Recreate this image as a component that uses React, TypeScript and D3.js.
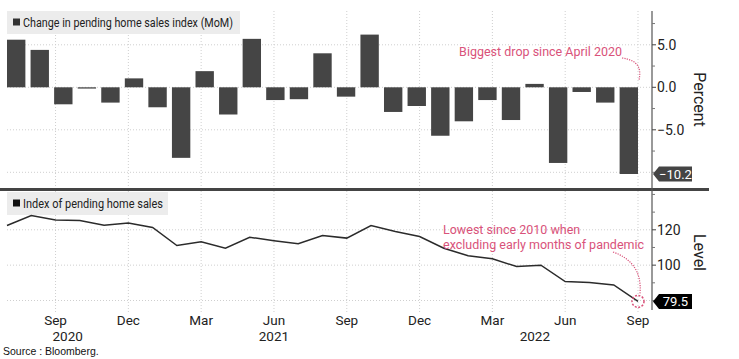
import React from "react";
import * as d3 from "d3";

// ---------- data ----------
const months = [
  "Jul 2020", "Aug 2020", "Sep 2020", "Oct 2020", "Nov 2020", "Dec 2020",
  "Jan 2021", "Feb 2021", "Mar 2021", "Apr 2021", "May 2021", "Jun 2021",
  "Jul 2021", "Aug 2021", "Sep 2021", "Oct 2021", "Nov 2021", "Dec 2021",
  "Jan 2022", "Feb 2022", "Mar 2022", "Apr 2022", "May 2022", "Jun 2022",
  "Jul 2022", "Aug 2022", "Sep 2022",
];
const momChange = [
  5.6, 4.4, -2.0, -0.15, -1.8, 1.05, -2.35, -8.3, 1.9, -3.2, 5.7, -1.5, -1.4,
  4.0, -1.1, 6.2, -2.9, -2.2, -5.7, -4.0, -1.5, -3.85, 0.4, -8.9, -0.55, -1.8,
  -10.2,
];
const indexLevel = [
  122.4, 128.1, 125.6, 125.2, 122.6, 123.9, 121.3, 111.1, 113.2, 109.6, 115.8,
  113.8, 112.1, 116.8, 115.3, 122.4, 119.0, 116.2, 109.6, 105.3, 103.6, 99.2,
  100.0, 90.7, 90.2, 88.8, 79.5,
];
const monthTickLabels = ["Sep", "Dec", "Mar", "Jun", "Sep", "Dec", "Mar", "Jun", "Sep"];
const monthTickIndex = [2, 5, 8, 11, 14, 17, 20, 23, 26];
const yearLabels = ["2020", "2021", "2022"];
const yearLabelIndex = [2.5, 11, 21.75];
const pctTicks = [5, 0, -5];
const pctMinorTicks = [7.5, 2.5, -2.5, -7.5, -10];
const levelTicks = [120, 100];
const levelMinorTicks = [140, 130, 110, 90, 80];

const topTitle = "Change in pending home sales index (MoM)";
const bottomTitle = "Index of pending home sales";
const topNote = "Biggest drop since April 2020";
const bottomNote1 = "Lowest since 2010 when";
const bottomNote2 = "excluding early months of pandemic";
const source = "Source : Bloomberg.";

// ---------- layout ----------
const W = 739;
const H = 359;
const left = 7;
const right = 638;
const axisX = 652;
const topY0 = 11;
const topY1 = 188;
const botY0 = 191;
const botY1 = 310;

const FONT = "Roboto, 'DejaVu Sans', sans-serif";
const PINK = "#d9527a";
const BAR = "#454545";
const GRID = "#cfcfcf";

export default function App() {
  const xBand = d3
    .scaleBand<string>()
    .domain(months)
    .range([left, right])
    .paddingInner(0.22)
    .paddingOuter(0);
  const xPt = d3.scaleLinear().domain([0, months.length - 1]).range([left, right]);

  const yTop = d3.scaleLinear().domain([-10, 5]).range([172.3, 44.8]);
  const yBot = d3.scaleLinear().domain([80, 120]).range([300.5, 229.8]);

  const linePath = d3
    .line<number>()
    .x((_, i) => xPt(i))
    .y((d) => yBot(d))(indexLevel) as string;

  const lastI = months.length - 1;
  const lastVal = momChange[lastI];
  const lastLvl = indexLevel[lastI];
  const tagTopY = yTop(lastVal);
  const tagBotY = yBot(lastLvl);
  const fmt = d3.format(".1f");

  const tag = (y: number, fill: string, text: string, w: number) => (
    <g>
      <path
        d={`M${axisX + 1},${y} L${axisX + 7},${y - 7.5} L${axisX + w},${y - 7.5} L${axisX + w},${y + 7.5} L${axisX + 7},${y + 7.5} Z`}
        fill={fill}
      />
      <text
        x={axisX + 7 + (w - 7) / 2}
        y={y + 5}
        textAnchor="middle"
        fill="#fff"
        fontSize={13}
        fontFamily={FONT}
      >
        {text}
      </text>
    </g>
  );

  const topBarX = xPt(lastI);
  const topTip = yTop(0) - 7;

  return (
    <svg
      width={W}
      height={H}
      style={{ position: "absolute", left: 0, top: 0, background: "#fff" }}
    >
      {/* vertical gridlines */}
      {monthTickIndex.map((idx, k) => (
        <line
          key={"vg" + k}
          x1={xPt(idx)}
          x2={xPt(idx)}
          y1={topY0}
          y2={botY1 + 2}
          stroke={GRID}
          strokeWidth={1}
          strokeDasharray="1,2"
        />
      ))}
      {/* horizontal gridlines */}
      {[5, 0, -5, -10].map((v) => (
        <line
          key={"hgt" + v}
          x1={left}
          x2={axisX}
          y1={yTop(v)}
          y2={yTop(v)}
          stroke={GRID}
          strokeDasharray="1,2"
        />
      ))}
      {[120, 100, 80].map((v) => (
        <line
          key={"hgb" + v}
          x1={left}
          x2={axisX}
          y1={yBot(v)}
          y2={yBot(v)}
          stroke={GRID}
          strokeDasharray="1,2"
        />
      ))}

      {/* legends */}
      <rect x={7} y={11} width={233} height={23} fill="#ececec" />
      <rect x={13} y={18.5} width={7} height={7} fill="#333" />
      <text
        x={23}
        y={26.5}
        fontSize={12}
        fill="#222"
        fontFamily={FONT}
        textLength={210}
        lengthAdjust="spacingAndGlyphs"
      >
        {topTitle}
      </text>
      <rect x={7} y={192} width={161} height={23} fill="#ececec" />
      <rect x={13} y={199.5} width={7} height={7} fill="#111" />
      <text
        x={23}
        y={208}
        fontSize={12}
        fill="#222"
        fontFamily={FONT}
        textLength={140}
        lengthAdjust="spacingAndGlyphs"
      >
        {bottomTitle}
      </text>

      {/* bars */}
      {momChange.map((v, i) => {
        const y0 = yTop(0);
        const y1 = yTop(v);
        return (
          <rect
            key={"b" + i}
            x={xBand(months[i])}
            width={xBand.bandwidth()}
            y={Math.min(y0, y1)}
            height={Math.max(1, Math.abs(y1 - y0))}
            fill={BAR}
          />
        );
      })}

      {/* line */}
      <path d={linePath} fill="none" stroke="#2b2b2b" strokeWidth={1.5} />

      {/* separator */}
      <line x1={0} x2={709} y1={189.5} y2={189.5} stroke="#444" strokeWidth={3} />

      {/* right axis */}
      <line x1={axisX} x2={axisX} y1={topY0} y2={botY1} stroke="#555" strokeWidth={1.2} />
      {pctTicks.map((v) => (
        <g key={"pt" + v}>
          <line x1={axisX} x2={axisX + 4} y1={yTop(v)} y2={yTop(v)} stroke="#444" />
          <text x={axisX + 5} y={yTop(v) + 5} fontSize={14} fill="#222" fontFamily={FONT}>
            {fmt(v)}
          </text>
        </g>
      ))}
      {pctMinorTicks.map((v) => (
        <line key={"pm" + v} x1={axisX} x2={axisX + 3} y1={yTop(v)} y2={yTop(v)} stroke="#777" />
      ))}
      {levelTicks.map((v) => (
        <g key={"lt" + v}>
          <line x1={axisX} x2={axisX + 4} y1={yBot(v)} y2={yBot(v)} stroke="#444" />
          <text x={axisX + 5} y={yBot(v) + 5} fontSize={14} fill="#222" fontFamily={FONT}>
            {v}
          </text>
        </g>
      ))}
      {levelMinorTicks.map((v) => (
        <line key={"lm" + v} x1={axisX} x2={axisX + 3} y1={yBot(v)} y2={yBot(v)} stroke="#777" />
      ))}
      <text
        transform={`translate(694,${(topY0 + topY1) / 2}) rotate(90)`}
        textAnchor="middle"
        fontSize={16}
        fill="#222"
        fontFamily={FONT}
      >
        Percent
      </text>
      <text
        transform={`translate(694,${(botY0 + botY1) / 2 + 2}) rotate(90)`}
        textAnchor="middle"
        fontSize={16}
        fill="#222"
        fontFamily={FONT}
      >
        Level
      </text>

      {/* value tags */}
      {tag(tagTopY, "#444", fmt(lastVal), 40)}
      {tag(tagBotY, "#000", fmt(lastLvl), 40)}

      {/* annotations */}
      <text x={topBarX - 16} y={56} textAnchor="end" fontSize={12.5} fill={PINK} fontFamily={FONT}>
        {topNote}
      </text>
      <path
        d={`M${topBarX - 16},${58} C${topBarX - 2},${60} ${topBarX + 4},${66} ${topBarX + 1},${topTip}`}
        fill="none"
        stroke={PINK}
        strokeWidth={1.2}
        strokeDasharray="1.2,1.2"
      />
      <text x={443} y={234} fontSize={12.5} fill={PINK} fontFamily={FONT}>
        {bottomNote1}
      </text>
      <text x={443} y={249} fontSize={12.5} fill={PINK} fontFamily={FONT}>
        {bottomNote2}
      </text>
      <path
        d={`M${xPt(lastI) - 25},${252} C${xPt(lastI) - 8},${258} ${xPt(lastI) + 4},${270} ${xPt(lastI) + 2},${tagBotY - 8}`}
        fill="none"
        stroke={PINK}
        strokeWidth={1.2}
        strokeDasharray="1.2,1.2"
      />
      <circle
        cx={xPt(lastI)}
        cy={tagBotY}
        r={6}
        fill="none"
        stroke={PINK}
        strokeWidth={1.5}
        strokeDasharray="2,1.5"
      />

      {/* x axis labels */}
      {monthTickIndex.map((idx, k) => (
        <text
          key={"ml" + k}
          x={xPt(idx)}
          y={325}
          textAnchor="middle"
          fontSize={13.5}
          fill="#222"
          fontFamily={FONT}
        >
          {monthTickLabels[k]}
        </text>
      ))}
      {yearLabels.map((t, k) => (
        <text
          key={"yl" + k}
          x={xPt(yearLabelIndex[k])}
          y={341}
          textAnchor="middle"
          fontSize={13.5}
          fill="#222"
          fontFamily={FONT}
        >
          {t}
        </text>
      ))}

      <text x={3} y={355} fontSize={10.5} fill="#111" fontFamily="'Liberation Sans', Arial, sans-serif">
        {source}
      </text>
    </svg>
  );
}
